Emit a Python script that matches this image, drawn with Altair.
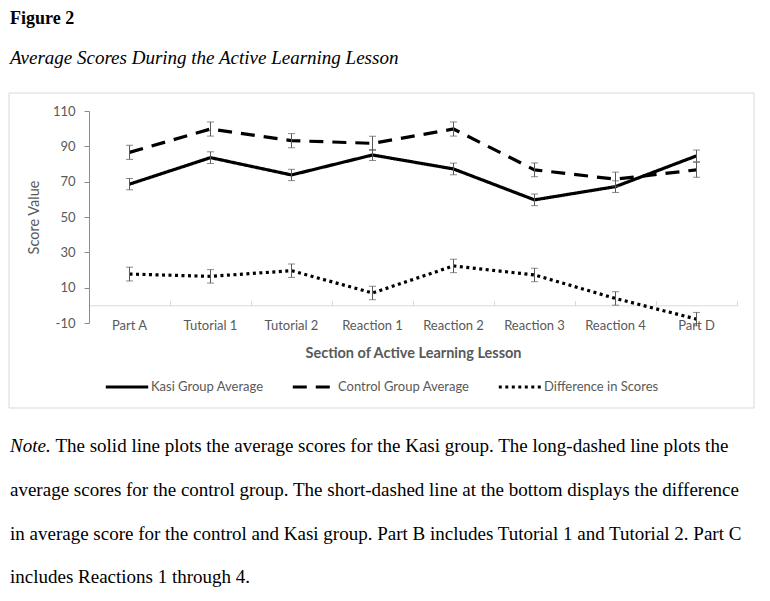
import altair as alt
import pandas as pd

categories = ["Part A", "Tutorial 1", "Tutorial 2", "Reaction 1",
              "Reaction 2", "Reaction 3", "Reaction 4", "Part D"]
kasi = [68.6, 83.6, 73.8, 85.1, 77.2, 59.7, 67.2, 84.6]
kasi_err = [3.2, 3.3, 3.2, 3.1, 3.3, 3.3, 3.3, 3.3]
control = [86.6, 99.8, 93.2, 91.7, 99.8, 76.7, 71.4, 76.7]
control_err = [4.0, 4.0, 4.0, 4.0, 4.0, 3.9, 4.0, 4.2]
diff = [17.7, 16.4, 19.6, 7.0, 22.3, 17.2, 3.9, -7.8]
diff_err = [3.9, 3.8, 3.8, 3.8, 3.8, 3.8, 3.8, 3.8]
series_names = ["Kasi Group Average", "Control Group Average", "Difference in Scores"]
y_ticks = [-10, 10, 30, 50, 70, 90, 110]

fig_label = ["Figure 2"]
fig_title = ["Average Scores During the Active Learning Lesson"]
note_lead = ["Note."]
note_lines = [
    "The solid line plots the average scores for the Kasi group. The long-dashed line plots the",
    "average scores for the control group. The short-dashed line at the bottom displays the difference",
    "in average score for the control and Kasi group. Part B includes Tutorial 1 and Tutorial 2. Part C",
    "includes Reactions 1 through 4.",
]

rows = []
for name, vals, errs in zip(series_names, [kasi, control, diff], [kasi_err, control_err, diff_err]):
    for c, v, e in zip(categories, vals, errs):
        rows.append({"section": c, "series": name, "value": v, "lo": v - e, "hi": v + e})
df = pd.DataFrame(rows)

FONT = "Lato"
SERIF = "Liberation Serif"
GRAY = "#595959"
W, H = 648, 212

xscale = alt.Scale(type="band", domain=categories, paddingInner=0, paddingOuter=0)
yscale = alt.Scale(domain=[-10, 110], nice=False, zero=False)
yaxis = alt.Axis(values=y_ticks, grid=False, domainColor="#8c8c8c",
                 tickColor="#8c8c8c", tickSize=5, labelPadding=9,
                 labelExpr="'' + datum.value",
                 labelFont=FONT, labelFontSize=13, labelColor=GRAY,
                 title="Score Value", titleFont=FONT, titleFontSize=14.5,
                 titleFontWeight="normal", titleColor=GRAY,
                 titleX=-55, titleY=106, titleAngle=270,
                 titleAlign="center", titleBaseline="middle")

base = alt.Chart(df)

box = alt.Chart(pd.DataFrame({"k": [0]})).mark_rect(
    filled=False, stroke="#d9d9d9", strokeWidth=1
).encode(x=alt.value(-80), x2=alt.value(665), y=alt.value(-18), y2=alt.value(297))

zero_axis = base.mark_rule(opacity=0).encode(
    x=alt.X("section:N", scale=xscale, sort=categories, bandPosition=0.5,
            axis=alt.Axis(orient="top", offset=-H * 110 / 120, domain=True,
                          domainColor="#d9d9d9", ticks=True, tickColor="#d9d9d9",
                          tickSize=5, tickBand="extent", labels=False, title=None)),
    y=alt.Y("value:Q", scale=yscale, axis=yaxis),
)

lines = base.mark_line(color="black", strokeWidth=3.2).encode(
    x=alt.X("section:N", scale=xscale, sort=categories, bandPosition=0.5,
            axis=alt.Axis(orient="bottom", domain=False, ticks=False, tickSize=0,
                          labelPadding=2, labelBaseline="middle", labelAngle=0,
                          labelFont=FONT, labelFontSize=13, labelColor=GRAY,
                          title="Section of Active Learning Lesson",
                          titleFont=FONT, titleFontSize=14.5, titleFontWeight="bold",
                          titleColor=GRAY, titleY=30, titleBaseline="middle")),
    y=alt.Y("value:Q", scale=yscale, axis=yaxis),
    detail="series:N",
    strokeDash=alt.StrokeDash(
        "series:N",
        scale=alt.Scale(domain=series_names, range=[[1, 0], [14, 9], [3, 3.5]]),
        sort=series_names,
        legend=alt.Legend(orient="none", legendX=15, legendY=253, direction="horizontal",
                          title=None, symbolType="stroke", symbolSize=1800,
                          symbolStrokeWidth=3.2, symbolStrokeColor="black",
                          labelFont=FONT, labelFontSize=13, labelColor=GRAY,
                          labelOffset=1, columnPadding=22, padding=0),
    ),
)

err_rule = base.mark_rule(color=GRAY, strokeWidth=1).encode(
    x=alt.X("section:N", scale=xscale, sort=categories, bandPosition=0.5, axis=None),
    y=alt.Y("lo:Q", scale=yscale, axis=yaxis),
    y2="hi:Q",
)
cap_lo = base.mark_tick(color=GRAY, thickness=1, size=7).encode(
    x=alt.X("section:N", scale=xscale, sort=categories, axis=None),
    y=alt.Y("lo:Q", scale=yscale, axis=yaxis),
)
cap_hi = base.mark_tick(color=GRAY, thickness=1, size=7).encode(
    x=alt.X("section:N", scale=xscale, sort=categories, axis=None),
    y=alt.Y("hi:Q", scale=yscale, axis=yaxis),
)

t_label = alt.Chart(pd.DataFrame({"t": fig_label})).mark_text(
    font=SERIF, fontSize=18, fontWeight="bold", align="left", baseline="alphabetic", color="black"
).encode(x=alt.value(-79), y=alt.value(-87), text="t:N")
t_title = alt.Chart(pd.DataFrame({"t": fig_title})).mark_text(
    font=SERIF, fontSize=19, fontStyle="italic", align="left", baseline="alphabetic", color="black"
).encode(x=alt.value(-79), y=alt.value(-47), text="t:N")

n_lead = alt.Chart(pd.DataFrame({"t": note_lead})).mark_text(
    font=SERIF, fontSize=19, fontStyle="italic", align="left", baseline="alphabetic", color="black"
).encode(x=alt.value(-79), y=alt.value(341), text="t:N")
note_pos = [(-33.6, 341), (-79, 385), (-79, 429), (-79, 472)]
notes = [
    alt.Chart(pd.DataFrame({"t": [line]})).mark_text(
        font=SERIF, fontSize=19, align="left", baseline="alphabetic", color="black"
    ).encode(x=alt.value(px), y=alt.value(py), text="t:N")
    for line, (px, py) in zip(note_lines, note_pos)
]

chart = alt.layer(
    box, zero_axis, lines, err_rule, cap_lo, cap_hi, t_label, t_title, n_lead, *notes
).resolve_axis(x="independent").properties(
    width=W, height=H, autosize="none",
    padding={"left": 81, "top": 103, "right": 25, "bottom": 270},
).configure_view(stroke=None)

chart.save("out.html", embed_options={"renderer": "svg", "actions": False})
